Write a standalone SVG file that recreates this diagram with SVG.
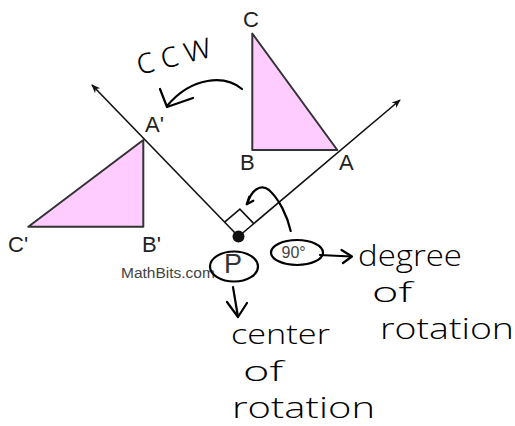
<svg xmlns="http://www.w3.org/2000/svg" width="515" height="426" viewBox="0 0 515 426">
<defs>
<marker id="ah" viewBox="0 0 10 10" refX="9" refY="5" markerWidth="9" markerHeight="9" markerUnits="userSpaceOnUse" orient="auto">
<path d="M0,1 L10,5 L0,9 L3,5 Z" fill="#111"/>
</marker>
</defs>
<style>
.tri{fill:#ffccff;stroke:#333;stroke-width:2;stroke-linejoin:round}
.ray{fill:none;stroke:#111;stroke-width:1.6}
.lbl{font-family:"Liberation Sans",Arial,sans-serif;font-size:22px;fill:#222}
.hw{fill:none;stroke:#000;stroke-width:2.2;stroke-linecap:round;stroke-linejoin:round}
.ht{font-family:"Open Sans","DejaVu Sans",sans-serif;font-weight:300;font-size:28px;fill:#000}
</style>
<rect width="515" height="426" fill="#fff"/>
<g id="connectors">
<line class="ray" x1="238.5" y1="236.5" x2="92" y2="85" marker-end="url(#ah)"/>
<line class="ray" x1="238.5" y1="236.5" x2="400" y2="100" marker-end="url(#ah)"/>
<path class="ray" d="M224.6,222.1 L239.9,209.2 L253.8,223.6"/>
</g>
<g id="triangle-ABC">
<polygon class="tri" points="252.3,33.5 252.3,150 337.3,150"/>
<text class="lbl" x="243" y="27">C</text>
<text class="lbl" x="240" y="170">B</text>
<text class="lbl" x="339" y="170">A</text>
</g>
<g id="triangle-A1B1C1">
<polygon class="tri" points="143.3,140 143.3,226.7 28.3,226.7"/>
<text class="lbl" x="145" y="132">A'</text>
<text class="lbl" x="8" y="252">C'</text>
<text class="lbl" x="142" y="252">B'</text>
</g>
<g id="center-P">
<circle cx="238.5" cy="236.5" r="6" fill="#111"/>
<text x="121" y="278" font-family="Liberation Sans,Arial,sans-serif" font-size="15.5" fill="#444">MathBits.com</text>
<ellipse cx="234" cy="266.5" rx="24" ry="15" fill="none" stroke="#000" stroke-width="2.2"/>
<text x="224" y="272.5" font-family="Liberation Sans,Arial,sans-serif" font-size="27" fill="#333">P</text>
</g>
<g id="angle-90">
<ellipse cx="297" cy="252.5" rx="26" ry="12.5" fill="none" stroke="#000" stroke-width="2.2"/>
<text x="281.5" y="257.5" font-family="Liberation Sans,Arial,sans-serif" font-size="16" fill="#444">90°</text>
</g>
<g id="annotations">
<path class="hw" d="M242,89 C225,75 192,76 167,106"/>
<path class="hw" d="M160,89 L167,107 L193,98"/>
<text class="ht" x="0" y="0" style="font-size:37px" transform="translate(139,75) rotate(-14)" textLength="76" lengthAdjust="spacing">ccw</text>
<path class="hw" d="M290.7,231 C287,215 279,199 269,190 C261,184 252,189 247.5,203"/>
<path class="hw" d="M249.3,196.7 L246.7,204.3 L253.3,200.7"/>
<path class="hw" d="M320,255 L351,256.5"/>
<path class="hw" d="M341.5,250 L352,256.5 L343,263"/>
<path class="hw" d="M233,287 L238,317"/>
<path class="hw" d="M227,302 L238,317 L247,303"/>
<text class="ht" x="358" y="266" style="font-size:30px" textLength="104" lengthAdjust="spacingAndGlyphs">degree</text>
<text class="ht" x="372" y="302" textLength="40" lengthAdjust="spacingAndGlyphs">of</text>
<text class="ht" x="380" y="339" style="font-size:30px" textLength="134" lengthAdjust="spacingAndGlyphs">rotation</text>
<text class="ht" x="231" y="344" textLength="99" lengthAdjust="spacingAndGlyphs">center</text>
<text class="ht" x="243" y="381" textLength="40" lengthAdjust="spacingAndGlyphs">of</text>
<text class="ht" x="232" y="418" style="font-size:30px" textLength="143" lengthAdjust="spacingAndGlyphs">rotation</text>
</g>
</svg>
